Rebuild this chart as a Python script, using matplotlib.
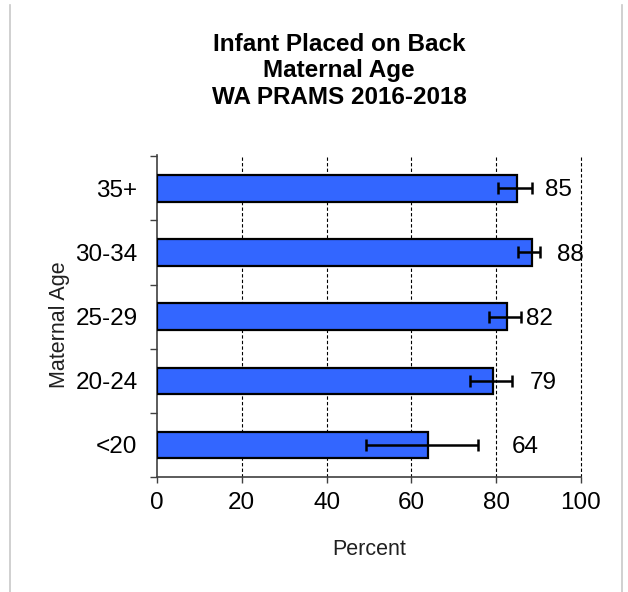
import numpy as np
import matplotlib.pyplot as plt
from matplotlib.lines import Line2D

# datos
age_groups = ["<20", "20-24", "25-29", "30-34", "35+"]
percent = [63.8, 79.3, 82.5, 88.4, 84.8]
ci_low = [49.3, 73.8, 78.4, 85.2, 80.4]
ci_high = [75.8, 83.8, 85.8, 90.3, 88.4]
value_labels = ["64", "79", "82", "88", "85"]

plt.rcParams['font.family'] = ['Liberation Sans', 'DejaVu Sans']

fig = plt.figure(figsize=(6.28, 5.92), dpi=100)
ax = fig.add_axes([157 / 628, 1 - 477 / 592, 424 / 628, 322 / 592])

y = np.arange(len(age_groups))
pct = np.array(percent)
err = [pct - np.array(ci_low), np.array(ci_high) - pct]

ax.barh(y, pct, height=0.41, color='#3366ff', edgecolor='black', linewidth=1.6, zorder=3)
ax.errorbar(pct, y, xerr=err, fmt='none', ecolor='black', elinewidth=1.8,
            capsize=4.5, capthick=1.8, zorder=4)

# etiquetas de valor a la derecha de cada barra
offsets = [33, 17, 5, 17, 13]
for yi, hi, lab, off in zip(y, ci_high, value_labels, offsets):
    ax.annotate(lab, (hi, yi), xytext=(off * 0.72, -1.5), textcoords='offset points',
                ha='left', va='center', fontsize=17.5, color='black')

ax.set_xlim(0, 100)
ax.set_ylim(-0.5, 4.52)
ax.set_xticks([0, 20, 40, 60, 80, 100])
ax.tick_params(axis='x', labelsize=17.5, length=4, width=1, colors='#404040',
               labelcolor='black', pad=7)
for xv in [20, 40, 60, 80, 100]:
    ax.axvline(xv, color='black', linestyle=(0, (3, 2)), linewidth=0.8, zorder=1, clip_on=False)

ax.set_yticks(y)
ax.set_yticklabels(age_groups)
ax.set_yticks(np.arange(-0.5, 5, 1.0), minor=True)
ax.tick_params(axis='y', which='major', length=0, labelsize=17.5, pad=14, labelcolor='black')
ax.tick_params(axis='y', which='minor', length=5, width=1, colors='#404040')

for s in ['top', 'right']:
    ax.spines[s].set_visible(False)
for s in ['left', 'bottom']:
    ax.spines[s].set_color('#404040')
    ax.spines[s].set_linewidth(1.2)

ax.set_xlabel("Percent", fontsize=15.5, labelpad=18, color='#202020')
ax.set_ylabel("Maternal Age", fontsize=15.5, color='#202020')
ax.yaxis.set_label_coords(-0.205, 0.472)

fig.text(339 / 628, 1 - 71 / 592,
         "Infant Placed on Back\nMaternal Age\nWA PRAMS 2016-2018",
         ha='center', va='center', fontsize=17.5, fontweight='bold', linespacing=1.17)

# marco gris del recuadro
fig.add_artist(Line2D([10 / 628, 10 / 628], [0, 1 - 5 / 592], transform=fig.transFigure,
                      color='#c8c8c8', linewidth=1.2))
fig.add_artist(Line2D([622 / 628, 622 / 628], [0, 1 - 5 / 592], transform=fig.transFigure,
                      color='#c8c8c8', linewidth=1.2))

fig.savefig("out.png", dpi=100)
